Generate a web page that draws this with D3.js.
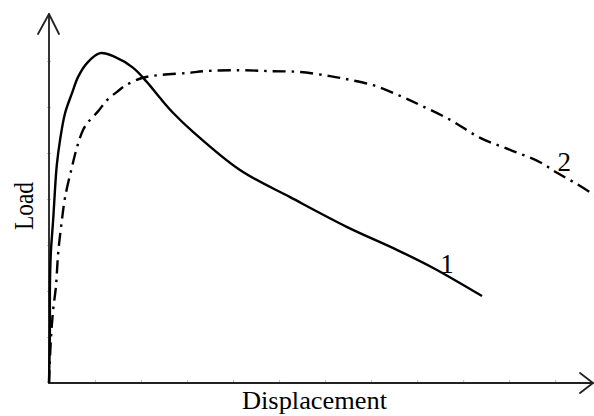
<!DOCTYPE html>
<html>
<head>
<meta charset="utf-8">
<script src="https://cdn.jsdelivr.net/npm/d3@7"></script>
<style>
  html, body { margin: 0; padding: 0; background: #fff; }
  svg { display: block; }
  text { font-family: "Liberation Serif", "DejaVu Serif", serif; fill: #000; }
</style>
</head>
<body>
<svg id="chart" width="594" height="416"></svg>
<script>
// Data (displacement, load) in arbitrary units
const curve1X = [0, 0.02, 0.02, 0.04, 0.09, 0.13, 0.17, 0.24, 0.35, 0.50, 0.63, 0.83, 1.11, 1.43, 1.83, 2.13, 2.41, 2.70, 3.13, 4.15, 5.24, 6.48, 7.57, 8.35, 9.41];
const curve1Y = [0, 1.15, 2.09, 2.83, 3.54, 4.20, 4.74, 5.28, 5.87, 6.30, 6.65, 6.96, 7.17, 7.09, 6.85, 6.54, 6.20, 5.87, 5.46, 4.63, 4.04, 3.39, 2.89, 2.50, 1.89];
const curve2X = [0, 0.04, 0.09, 0.15, 0.20, 0.28, 0.35, 0.50, 0.61, 0.74, 0.85, 1.07, 1.26, 1.48, 1.65, 2.02, 2.46, 3.02, 3.39, 4.15, 4.80, 5.46, 6.11, 6.54, 7.09, 7.63, 8.07, 8.72, 9.37, 10.02, 10.67, 11.04, 11.43, 11.85];
const curve2Y = [0, 0.93, 1.59, 2.09, 2.83, 3.54, 4.04, 4.70, 5.13, 5.50, 5.67, 5.91, 6.15, 6.33, 6.46, 6.63, 6.70, 6.74, 6.78, 6.80, 6.78, 6.76, 6.67, 6.59, 6.46, 6.24, 6.04, 5.72, 5.33, 5.07, 4.80, 4.57, 4.35, 4.09];
const seriesLabels = ["1", "2"];
const labelX = [8.5, 11.05];
const labelY = [2.4, 4.6];
const xTicks = [1, 2, 3, 4, 5, 6, 7, 8, 9, 10, 11];
const yTicks = [1, 2, 3, 4, 5, 6, 7];
const xTitle = "Displacement";
const yTitle = "Load";

const svg = d3.select("#chart");
const x = d3.scaleLinear().domain([0, 11.8]).range([49, 592]);
const y = d3.scaleLinear().domain([0, 8]).range([383, 15]);

// faint ticks
svg.append("g")
  .attr("transform", `translate(0,${y(0)})`)
  .call(d3.axisBottom(x).tickValues(xTicks).tickSize(2).tickSizeOuter(0).tickFormat(""))
  .call(g => g.select(".domain").remove())
  .call(g => g.selectAll("line").attr("stroke", "#bbb").attr("transform", "translate(0,-3)").attr("y2", 4));
svg.append("g")
  .attr("transform", `translate(${x(0)},0)`)
  .call(d3.axisLeft(y).tickValues(yTicks).tickSize(2).tickSizeOuter(0).tickFormat(""))
  .call(g => g.select(".domain").remove())
  .call(g => g.selectAll("line").attr("stroke", "#bbb").attr("transform", "translate(2,0)").attr("x2", -4));

// axes lines with arrows
const axisG = svg.append("g").attr("fill", "none").attr("stroke-linecap", "round").attr("stroke-linejoin", "round");
axisG.append("line")
  .attr("x1", x(0)).attr("y1", y(0)).attr("x2", x(0)).attr("y2", 14)
  .attr("stroke", "#333").attr("stroke-width", 2);
axisG.append("path")
  .attr("d", `M${x(0) - 11},34 L${x(0)},14 L${x(0) + 10},34`)
  .attr("stroke", "#222").attr("stroke-width", 1.8);
axisG.append("line")
  .attr("x1", x(0)).attr("y1", y(0)).attr("x2", 593).attr("y2", y(0))
  .attr("stroke", "#222").attr("stroke-width", 2);
axisG.append("path")
  .attr("d", `M580,${y(0) - 10} L593,${y(0)} L580,${y(0) + 10}`)
  .attr("stroke", "#222").attr("stroke-width", 1.8);

const line = d3.line().x(d => x(d[0])).y(d => y(d[1])).curve(d3.curveCatmullRom.alpha(0.5));

const d1 = curve1X.map((v, i) => [v, curve1Y[i]]);
const d2 = curve2X.map((v, i) => [v, curve2Y[i]]);

svg.append("path").datum(d2)
  .attr("d", line).attr("fill", "none").attr("stroke", "#000")
  .attr("stroke-width", 2.4).attr("stroke-dasharray", "13,6,2.5,6");
svg.append("path").datum(d1)
  .attr("d", line).attr("fill", "none").attr("stroke", "#000")
  .attr("stroke-width", 2.4);

// series labels
svg.selectAll("text.lbl").data(seriesLabels).enter().append("text")
  .attr("class", "lbl")
  .attr("x", (d, i) => x(labelX[i]))
  .attr("y", (d, i) => y(labelY[i]))
  .attr("font-size", 27)
  .text(d => d);

// axis titles
svg.append("text")
  .attr("x", 242).attr("y", 409)
  .attr("font-size", 26)
  .attr("textLength", 145).attr("lengthAdjust", "spacingAndGlyphs")
  .text(xTitle);
svg.append("text")
  .attr("transform", "translate(33,230) rotate(-90)")
  .attr("font-size", 27)
  .attr("textLength", 48).attr("lengthAdjust", "spacingAndGlyphs")
  .text(yTitle);
</script>
</body>
</html>
